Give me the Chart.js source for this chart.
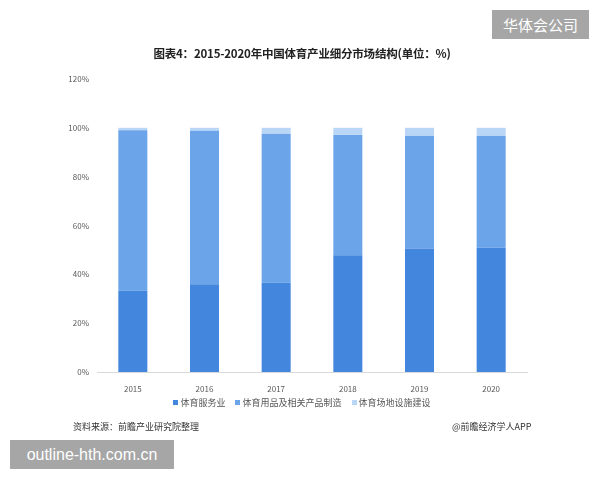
<!DOCTYPE html>
<html>
<head>
<meta charset="utf-8">
<script src="https://cdn.jsdelivr.net/npm/chart.js@4"></script>
<style>
  html, body { margin: 0; padding: 0; background: #fff; }
  #wrap { position: relative; width: 600px; height: 480px; overflow: hidden; font-family: "Noto Sans CJK SC", "Noto Sans", sans-serif; }
  canvas { position: absolute; left: 0; top: 0; }
  .abs { position: absolute; white-space: nowrap; }
  #title { left: 0; width: 604px; top: 45px; text-align: center; font-size: 11.5px; font-weight: bold; color: #222; letter-spacing: -0.2px; }
  #legend { left: 0; width: 604px; top: 396px; text-align: center; font-size: 9px; color: #555; }
  #legend span.item { display: inline-block; margin: 0 5px; }
  #legend span.sw { display: inline-block; width: 5px; height: 5px; margin-right: 2px; vertical-align: 1px; }
  #src { left: 73px; top: 420px; font-size: 9px; color: #333; }
  #app { left: 452px; top: 420px; font-size: 9px; color: #333; }
  #box1 { left: 492px; top: 10px; width: 97px; height: 29px; background: #a6a6a6; color: #fff; font-size: 15px; line-height: 29px; text-align: center; }
  #box2 { left: 10px; top: 440px; width: 164px; height: 29px; background: #a6a6a6; color: #fff; font-size: 16px; line-height: 29px; text-align: center; font-family: "Liberation Sans", "DejaVu Sans", sans-serif; }
</style>
</head>
<body>
<div id="wrap">
  <canvas id="c" width="600" height="480"></canvas>
  <div id="title" class="abs">图表4：2015-2020年中国体育产业细分市场结构(单位：%)</div>
  <div id="legend" class="abs"></div>
  <div id="src" class="abs">资料来源：前瞻产业研究院整理</div>
  <div id="app" class="abs">@前瞻经济学人APP</div>
  <div id="box1" class="abs">华体会公司</div>
  <div id="box2" class="abs">outline-hth.com.cn</div>
</div>
<script>
const categories = ["2015", "2016", "2017", "2018", "2019", "2020"];
const seriesNames = ["体育服务业", "体育用品及相关产品制造", "体育场地设施建设"];
const services = [33.3, 35.9, 36.6, 47.8, 50.6, 50.9];
const manufacturing = [65.7, 62.9, 61.0, 49.3, 46.2, 45.9];
const construction = [1.0, 1.2, 2.4, 2.9, 3.2, 3.2];
const yTicks = [0, 20, 40, 60, 80, 100, 120];
const colors = ["#4286de", "#6ca4ea", "#b9d6f7"];

const seriesData = [services, manufacturing, construction];
const datasets = seriesNames.map((n, i) => ({
  label: n,
  data: seriesData[i],
  backgroundColor: colors[i],
  borderWidth: 0,
  barPercentage: 0.405,
  categoryPercentage: 1.0
}));

const tickFont = { family: "Noto Sans CJK SC", size: 8 };

new Chart(document.getElementById("c"), {
  type: "bar",
  data: { labels: categories, datasets },
  options: {
    responsive: false,
    animation: false,
    layout: { padding: { left: 0, right: 73, top: 79, bottom: 0 } },
    plugins: { legend: { display: false }, tooltip: { enabled: false }, title: { display: false } },
    scales: {
      x: {
        stacked: true,
        grid: { display: false },
        border: { display: true, color: "#d9d9d9", width: 1 },
        ticks: { color: "#595959", font: tickFont, padding: 4 },
        afterFit: (s) => { s.height = 108; }
      },
      y: {
        stacked: true,
        min: 0, max: 120,
        afterBuildTicks: (s) => { s.ticks = yTicks.map(v => ({ value: v })); },
        grid: { display: false, drawTicks: false },
        border: { display: false },
        ticks: { color: "#595959", font: tickFont, padding: 8, callback: (v) => v + "%" },
        afterFit: (s) => { s.width = 97; }
      }
    }
  }
});

const lg = document.getElementById("legend");
lg.innerHTML = seriesNames.map((n, i) =>
  '<span class="item"><span class="sw" style="background:' + colors[i] + '"></span>' + n + '</span>'
).join("");
</script>
</body>
</html>
